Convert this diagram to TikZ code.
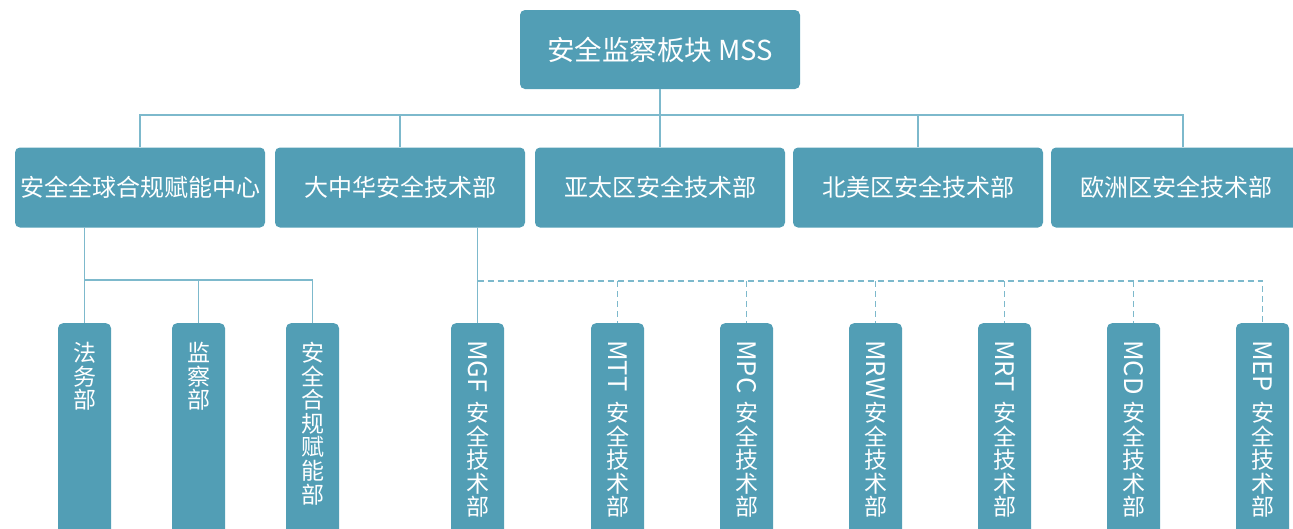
\documentclass[tikz,border=0pt]{standalone}
\usepackage{fontspec}
\setmainfont{Noto Sans CJK SC}
\definecolor{boxfill}{HTML}{529EB5}
\definecolor{linec}{HTML}{7DB9CC}
\tikzset{
  topbox/.style={draw=none, fill=boxfill, rounded corners=5pt, minimum width=280pt, minimum height=79pt, text=white, inner sep=0pt, font=\fontsize{27.5}{32}\selectfont},
  midbox/.style={draw=none, fill=boxfill, rounded corners=5pt, minimum width=250pt, minimum height=80pt, text=white, inner sep=0pt, font=\fontsize{24}{28}\selectfont},
  vbox/.style={draw=none, fill=boxfill, rounded corners=5pt, minimum width=53pt, minimum height=230pt, anchor=north, inner sep=0pt},
  vlat/.style={rotate=-90, anchor=west, text=white, inner sep=0pt, font=\fontsize{25.5}{30}\selectfont},
  vcjk/.style={anchor=north, text=white, inner sep=0pt, align=center, font=\fontsize{23}{23.6}\selectfont},
  conn/.style={draw=linec, line width=1.4pt},
  dconn/.style={draw=linec, line width=1.4pt, dash pattern=on 6pt off 4pt},
}
\begin{document}
\begin{tikzpicture}[x=1pt, y=-1pt]
\useasboundingbox (0,0) rectangle (1293,528);
% top
\node[topbox] (top) at (660,49.5) {安全监察板块 MSS};
% level 2
\node[midbox] (b1) at (140,187.5) {安全全球合规赋能中心};
\node[midbox] (b2) at (400,187.5) {大中华安全技术部};
\node[midbox] (b3) at (660,187.5) {亚太区安全技术部};
\node[midbox] (b4) at (918,187.5) {北美区安全技术部};
\node[midbox] (b5) at (1176,187.5) {欧洲区安全技术部};
\coordinate (hub) at (660,115);
% level 3 boxes
\node[vbox] (c1) at (84.5,323) {};
\node[vbox] (c2) at (198.5,323) {};
\node[vbox] (c3) at (312.5,323) {};
\node[vbox] (d1) at (477.5,323) {};
\node[vbox] (d2) at (617.5,323) {};
\node[vbox] (d3) at (746.5,323) {};
\node[vbox] (d4) at (875.5,323) {};
\node[vbox] (d5) at (1004.5,323) {};
\node[vbox] (d6) at (1133.5,323) {};
\node[vbox] (d7) at (1262.5,323) {};
% texts
\node[vcjk] (t1) at ([yshift=-19pt]c1.north) {法\\务\\部};
\node[vcjk] (t2) at ([yshift=-19pt]c2.north) {监\\察\\部};
\node[vcjk] (t3) at ([yshift=-19pt]c3.north) {安\\全\\合\\规\\赋\\能\\部};
\foreach \n/\l in {d1/MGF, d2/MTT, d3/MPC, d4/MRW, d5/MRT, d6/MCD, d7/MEP}{
  \node[vlat] (\n lat) at ([yshift=-17pt]\n.north) {\l};
  \node[vcjk] (\n cjk) at ([yshift=-79pt]\n.north) {安\\全\\技\\术\\部};
}
\coordinate (h1) at (0,280);
\coordinate (h2) at (0,281);
% connectors level 1-2
\draw[conn] (top.south) -- (b3.north);
\draw[conn] (b1.north) -- (b1.north |- hub) -- ([xshift=7pt]b5.north |- hub) -- ([xshift=7pt]b5.north);
\draw[conn] (b2.north |- hub) -- (b2.north);
\draw[conn] (b4.north |- hub) -- (b4.north);
% connectors level 2-3 (left)
\draw[conn] (c1.north |- b1.south) -- (c1.north);
\draw[conn] (c1.north |- h1) -- (c3.north |- h1) -- (c3.north);
\draw[conn] (c2.north |- h1) -- (c2.north);
% connectors level 2-3 (right)
\draw[conn] (d1.north |- b2.south) -- (d1.north);
\draw[dconn] (d1.north |- h2) -- (d7.north |- h2) -- (d7.north);
\foreach \n in {d2,d3,d4,d5,d6}{
  \draw[dconn] (\n.north |- h2) -- (\n.north);
}
\end{tikzpicture}
\end{document}
